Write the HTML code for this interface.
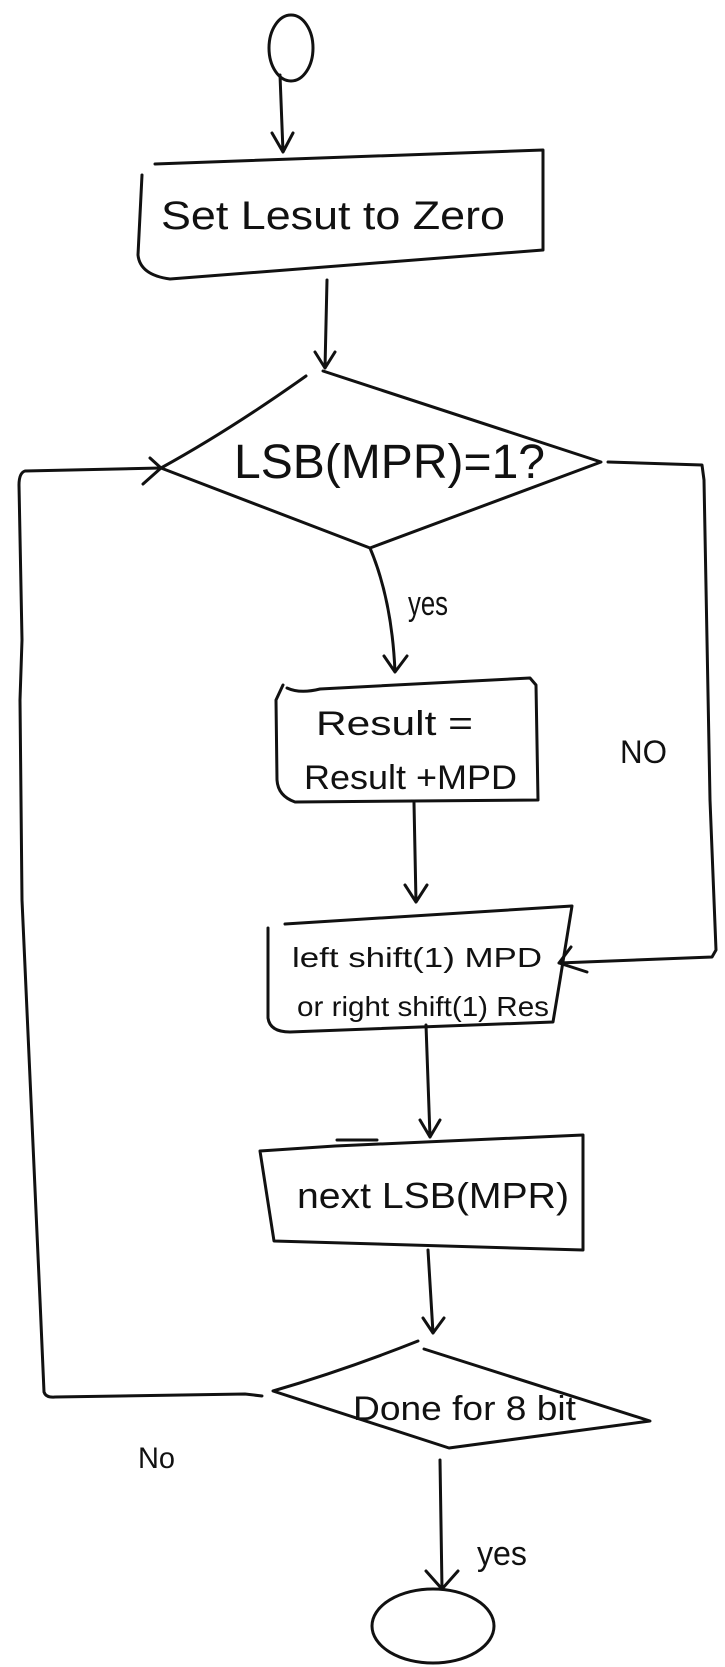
<!DOCTYPE html>
<html><head><meta charset="utf-8"><style>
html,body{margin:0;padding:0;background:#fff;}
svg{display:block}
text{font-family:"Liberation Sans",sans-serif;fill:#111;}
</style></head><body>
<svg width="725" height="1667" viewBox="0 0 725 1667" xmlns="http://www.w3.org/2000/svg">
<g fill="none" stroke="#111" stroke-width="3" stroke-linecap="round" stroke-linejoin="round">
<ellipse cx="291" cy="48" rx="22" ry="33"/>
<path d="M280 75 L283 152 M272 133 L283 152 L293 133"/>
<path d="M155 164 L543 150 L543 250 L170 279 Q140 275 138 255 L142 175"/>
<path d="M327 280 L325 368 M315 352 L325 368 L335 352"/>
<path d="M306 376 Q230 430 161 468 L370 548 L601 462 L323 371"/>
<path d="M161 468 L25 471 Q19 473 19 485 L22 640 L20 700 L22 900 L40 1300 L44 1392 Q46 1398 55 1397 L245 1394 L262 1396"/>
<path d="M150 458 L161 468 L143 484"/>
<path d="M608 462 L702 465 L704 480 L710 800 L716 950 L712 957 L559 963 M571 947 L559 963 L587 972"/>
<path d="M370 548 Q392 600 395 672 M384 656 L395 672 L407 656"/>
<path d="M287 688 Q300 694 320 689 L530 678 L536 685 L538 800 L295 802 Q278 796 277 780 L276 700 L283 685"/>
<path d="M414 803 L416 902 M405 885 L416 902 L427 885"/>
<path d="M285 924 L572 906 L560 980 L553 1022 L290 1032 Q270 1032 268 1018 L268 928"/>
<path d="M426 1025 L430 1137 M420 1120 L430 1137 L440 1120"/>
<path d="M260 1151 L335 1146 L583 1135 L583 1250 L274 1241 L260 1151 M337 1140 L377 1140"/>
<path d="M428 1250 L433 1333 M423 1318 L433 1333 L444 1318"/>
<path d="M418 1341 Q345 1370 273 1391 L449 1448 L650 1421 L424 1349"/>
<path d="M440 1460 L442 1589 M426 1571 L442 1589 L458 1571"/>
<ellipse cx="433" cy="1626" rx="61" ry="37"/>
</g>
<text x="161" y="229" font-size="40" textLength="344" lengthAdjust="spacingAndGlyphs">Set Lesut to Zero</text>
<text x="234" y="478" font-size="48" textLength="311" lengthAdjust="spacingAndGlyphs">LSB(MPR)=1?</text>
<text x="408" y="615" font-size="34" textLength="40" lengthAdjust="spacingAndGlyphs">yes</text>
<text x="316" y="735" font-size="34" textLength="157" lengthAdjust="spacingAndGlyphs">Result =</text>
<text x="304" y="789" font-size="34" textLength="213" lengthAdjust="spacingAndGlyphs">Result +MPD</text>
<text x="620" y="763" font-size="32" textLength="47" lengthAdjust="spacingAndGlyphs">NO</text>
<text x="292" y="967" font-size="28" textLength="250" lengthAdjust="spacingAndGlyphs">left shift(1) MPD</text>
<text x="297" y="1016" font-size="28" textLength="252" lengthAdjust="spacingAndGlyphs">or right shift(1) Res</text>
<text x="297" y="1208" font-size="36" textLength="272" lengthAdjust="spacingAndGlyphs">next LSB(MPR)</text>
<text x="353" y="1420" font-size="34" textLength="223" lengthAdjust="spacingAndGlyphs">Done for 8 bit</text>
<text x="138" y="1468" font-size="30" textLength="37" lengthAdjust="spacingAndGlyphs">No</text>
<text x="477" y="1565" font-size="34" textLength="50" lengthAdjust="spacingAndGlyphs">yes</text>
</svg>
</body></html>
